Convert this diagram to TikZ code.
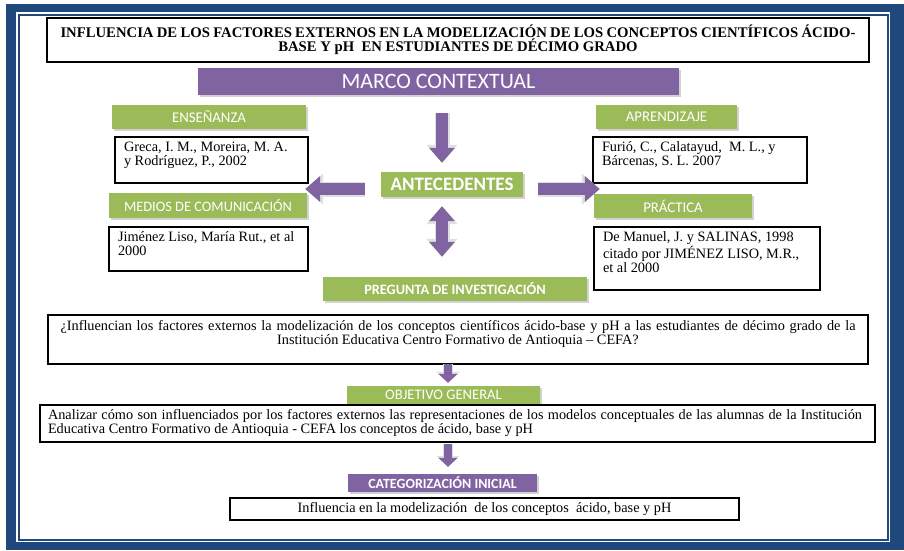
\documentclass[tikz,border=0pt]{standalone}
\usepackage{fontspec}
\setmainfont{Liberation Serif}
\newfontfamily\calibri{Carlito}
\usetikzlibrary{arrows.meta, shadows, positioning}
\definecolor{frameblue}{HTML}{1F497D}
\definecolor{mpurple}{HTML}{8064A2}
\definecolor{mgreen}{HTML}{9BBB59}
% top aligned text of fixed size
\newcommand{\celltext}[3]{\parbox[c][#2][t]{#1}{\raggedright #3}}

\begin{document}
\begin{tikzpicture}[x=1pt, y=-1pt,
	titlebox/.style={draw, fill=white, line width=1.5pt, minimum width=822pt, minimum height=44pt, inner sep=0pt, align=center,
		font=\fontsize{14.7}{14}\selectfont\bfseries, drop shadow={shadow xshift=1pt, shadow yshift=-1pt, fill=black, opacity=0.6}},
	refbox/.style={draw, fill=white, line width=1.5pt, inner xsep=9pt, inner ysep=5pt,
		font=\fontsize{14.3}{14}\selectfont, drop shadow={shadow xshift=1pt, shadow yshift=-1pt, fill=black, opacity=0.6}},
	textbox/.style={refbox, font=\fontsize{14.3}{14}\selectfont},
	greenbox/.style={fill=mgreen, text=white, inner sep=0pt, font=\calibri\fontsize{14.8}{16}\selectfont,
		drop shadow={shadow xshift=1.5pt, shadow yshift=-1.5pt, fill=black!35, opacity=0.5}},
	purplebox/.style={greenbox, fill=mpurple},
	bigarrow/.style={mpurple, line width=12pt, -{Triangle[width=25pt,length=15pt]},
		preaction={draw=black!12, line width=15pt, -{Triangle[width=30pt,length=18pt]}}},
	botharrow/.style={mpurple, line width=12pt, {Triangle[width=25pt,length=15pt]}-{Triangle[width=25pt,length=15pt]},
		preaction={draw=black!12, line width=15pt, {Triangle[width=30pt,length=18pt]}-{Triangle[width=30pt,length=18pt]}}},
	smallarrow/.style={mpurple, line width=8pt, -{Triangle[width=19pt,length=9pt]},
		preaction={draw=black!12, line width=10pt, -{Triangle[width=22pt,length=11pt]}}}]
	\useasboundingbox (0,0) rectangle (904,550);
	% frame
	\fill[frameblue] (6,4) rectangle (904,550);
	\fill[white] (16,12) rectangle (890,542);
	\draw[frameblue, line width=2pt] (18.5,14.5) rectangle (887.5,539.5);

	% title
	\node[titlebox] (title) at (458,40) {\makebox[795pt][s]{INFLUENCIA DE LOS FACTORES EXTERNOS EN LA MODELIZACIÓN DE LOS CONCEPTOS CIENTÍFICOS ÁCIDO-}\\BASE Y pH~ EN ESTUDIANTES DE DÉCIMO GRADO};
	\node[purplebox, minimum width=481pt, minimum height=27pt, font=\calibri\fontsize{22}{24}\selectfont] (marco) at (438.5,81.5) {MARCO CONTEXTUAL};

	% left column
	\node[greenbox, minimum width=194pt, minimum height=24pt] (ens) at (209,117) {ENSEÑANZA};
	\node[refbox] (greca) at (211.5,160) {\celltext{175pt}{36pt}{Greca, I. M., Moreira, M. A.\\y Rodríguez, P., 2002}};
	\node[greenbox, minimum width=198pt, minimum height=25pt, font=\calibri\fontsize{14.4}{16}\selectfont] (medios) at (208,205.5) {MEDIOS DE COMUNICACIÓN};
	\node[refbox] (jimenez) at (208.5,249) {\celltext{181pt}{34pt}{Jiménez Liso, María Rut., et al\\2000}};

	% right column
	\node[greenbox, minimum width=141pt, minimum height=24pt] (apr) at (666.5,117) {APRENDIZAJE};
	\node[refbox] (furio) at (700,160) {\celltext{196pt}{36pt}{Furió, C., Calatayud,~ M. L., y\\Bárcenas, S. L. 2007}};
	\node[greenbox, minimum width=158pt, minimum height=24pt] (practica) at (673,206) {PRÁCTICA};
	\node[refbox] (demanuel) at (707,258.5) {\celltext{208pt}{53pt}{De Manuel, J. y SALINAS, 1998\\citado por JIMÉNEZ LISO, M.R.,\\et al 2000}};

	% centre
	\node[greenbox, minimum width=142pt, minimum height=25pt, font=\calibri\fontsize{19}{21}\selectfont\bfseries] (ante) at (452,184.5) {ANTECEDENTES};
	\node[greenbox, minimum width=264pt, minimum height=24pt, font=\calibri\fontsize{14.3}{16}\selectfont\bfseries] (preg) at (455,289) {PREGUNTA DE INVESTIGACIÓN};
	\node[textbox, inner xsep=10pt] (question) at (458,339.5) {\parbox[c][39pt][t]{800pt}{\centering\makebox[795pt][s]{¿Influencian los factores externos la modelización de los conceptos científicos ácido-base y pH a las estudiantes de décimo grado de la}\\Institución Educativa Centro Formativo de Antioquia – CEFA?}};
	\node[greenbox, minimum width=193pt, minimum height=18pt, font=\calibri\fontsize{14.6}{16}\selectfont] (objetivo) at (443.5,395) {OBJETIVO GENERAL};
	\node[textbox, inner xsep=8pt, inner ysep=4pt] (objbox) at (457.5,423.5) {\celltext{819pt}{29pt}{\makebox[814pt][s]{Analizar cómo son influenciados por los factores externos las representaciones de los modelos conceptuales de las alumnas de la Institución}\\Educativa Centro Formativo de Antioquia - CEFA los conceptos de ácido, base y pH}};
	\node[purplebox, minimum width=189pt, minimum height=18pt, font=\calibri\fontsize{14}{16}\selectfont\bfseries] (categ) at (442.5,483) {CATEGORIZACIÓN INICIAL};
	\node[textbox, inner sep=0pt, minimum width=509pt, minimum height=22pt] (final) at (484.5,509) {Influencia en la modelización~ de los conceptos~ ácido, base y pH};

	% arrows
	\coordinate (axis) at (442,0);
	\coordinate (sideaxis) at (0,189);
	\coordinate (lowaxis) at (448,0);
	\draw[bigarrow, shorten <=18pt, shorten >=9pt] (marco.south -| axis) -- (ante.north -| axis);
	\draw[botharrow, shorten <=9pt, shorten >=20pt] (ante.south -| axis) -- (preg.north -| axis);
	\draw[bigarrow, shorten <=16pt, shorten >=-2pt] (ante.west |- sideaxis) -- (medios.east |- sideaxis);
	\draw[bigarrow, shorten <=15pt, shorten >=-6pt] (ante.east |- sideaxis) -- (practica.west |- sideaxis);
	\draw[smallarrow, shorten <=-1pt, shorten >=3pt] (question.south -| lowaxis) -- (objetivo.north -| lowaxis);
	\draw[smallarrow, shorten <=1pt, shorten >=7pt] (objbox.south -| lowaxis) -- (categ.north -| lowaxis);
\end{tikzpicture}
\end{document}
